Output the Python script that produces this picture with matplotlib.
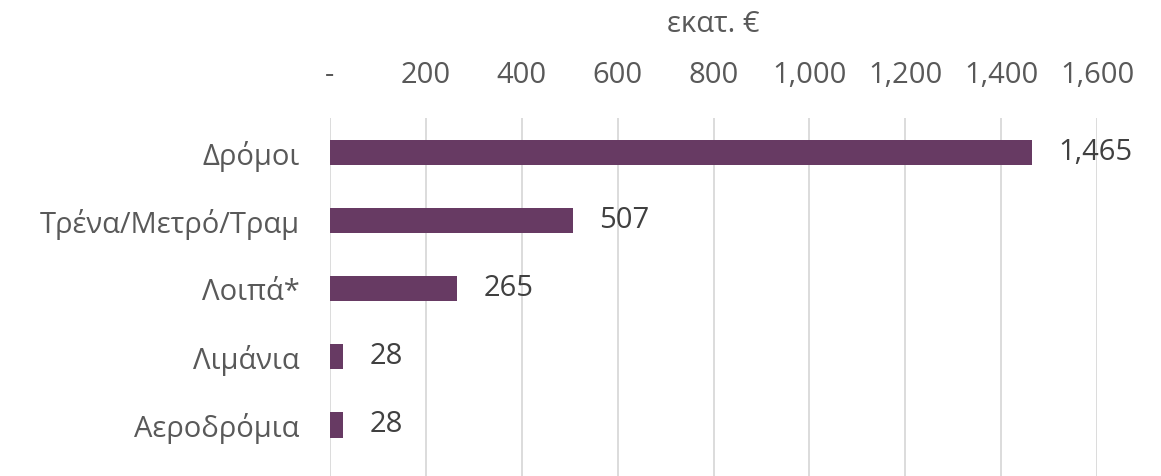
import matplotlib.pyplot as plt
from matplotlib.ticker import FuncFormatter

categories = ['Δρόμοι', 'Τρένα/Μετρό/Τραμ', 'Λοιπά*', 'Λιμάνια', 'Αεροδρόμια']
values = [1465, 507, 265, 28, 28]
xticks = [0, 200, 400, 600, 800, 1000, 1200, 1400, 1600]

plt.rcParams['font.family'] = ['Open Sans', 'DejaVu Sans']
text_col = '#595959'
bar_col = '#673A63'
fs = 21


def fmt(v, pos=None):
    # accounting style: zero shown as a dash
    return '-' if v == 0 else f'{v:,.0f}'


fig = plt.figure(figsize=(11.61, 4.76), dpi=100)
ax = fig.add_axes([330 / 1161, 0, (1097 - 330) / 1161, (476 - 118) / 476])

ypos = list(range(len(categories)))
ax.barh(ypos, values, height=0.37, color=bar_col, zorder=3)

for y, v in zip(ypos, values):
    ax.annotate(fmt(v), (v, y), xytext=(19, 0), textcoords='offset points',
                va='center', ha='left', fontsize=fs, color='#404040')

ax.set_xlim(0, 1600)
ax.set_ylim(4.75, -0.51)
ax.set_xticks(xticks)
ax.xaxis.set_major_formatter(FuncFormatter(fmt))
ax.xaxis.tick_top()
ax.set_yticks(ypos)
ax.set_yticklabels(categories)
ax.tick_params(axis='both', length=0, labelsize=fs, colors=text_col)
ax.tick_params(axis='x', pad=20)
ax.tick_params(axis='y', pad=22)
ax.grid(axis='x', color='#D9D9D9', linewidth=1.3, zorder=0)
for s in ax.spines.values():
    s.set_visible(False)

fig.text(713 / 1161, 1 - 24 / 476, 'εκατ. €', ha='center', va='center',
         fontsize=fs, color=text_col)

fig.savefig('out.png', dpi=100)
